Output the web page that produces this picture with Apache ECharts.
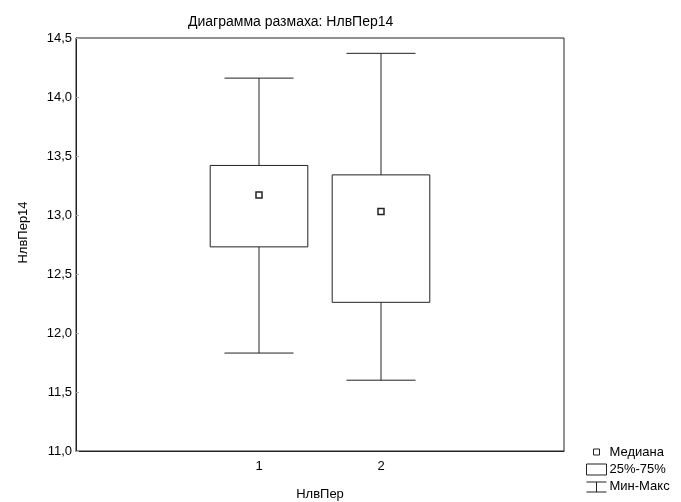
<!DOCTYPE html>
<html>
<head>
<meta charset="utf-8">
<script src="https://cdn.jsdelivr.net/npm/echarts@6/dist/echarts.min.js"></script>
<style>
  html, body { margin: 0; padding: 0; background: #fff; }
  #box { width: 681px; height: 502px; }
</style>
</head>
<body>
<div id="box"></div>
<script>
var categories = ['', '1', '2', ''];
var groups = ['1', '2'];
var mins = [11.83, 11.60];
var q1s = [12.73, 12.26];
var medians = [13.17, 13.03];
var q3s = [13.42, 13.34];
var maxs = [14.16, 14.37];
var yTicks = [11.0, 11.5, 12.0, 12.5, 13.0, 13.5, 14.0, 14.5];

var chart = echarts.init(document.getElementById('box'));

var boxData = [];
var medData = [];
for (var i = 0; i < groups.length; i++) {
  boxData.push([groups[i], mins[i], q1s[i], medians[i], q3s[i], maxs[i]]);
  medData.push([groups[i], medians[i]]);
}

var font = 'Liberation Sans, Arial, sans-serif';
var ink = '#222';

function renderBox(params, api) {
  var x = api.value(0);
  var band = api.size([1, 0])[0];
  var lo = api.coord([x, api.value(2)]);
  var hi = api.coord([x, api.value(4)]);
  var half = band * 0.4;
  return {
    type: 'rect',
    shape: { x: lo[0] - half, y: hi[1], width: half * 2, height: lo[1] - hi[1] },
    style: { fill: '#fff', stroke: ink, lineWidth: 1 }
  };
}

function renderWhisker(params, api) {
  var x = api.value(0);
  var band = api.size([1, 0])[0];
  var pMin = api.coord([x, api.value(1)]);
  var pQ1 = api.coord([x, api.value(2)]);
  var pQ3 = api.coord([x, api.value(4)]);
  var pMax = api.coord([x, api.value(5)]);
  var cap = band * 0.283;
  var st = { stroke: ink, lineWidth: 1 };
  return {
    type: 'group',
    children: [
      { type: 'line', shape: { x1: pQ3[0], y1: pQ3[1], x2: pMax[0], y2: pMax[1] }, style: st },
      { type: 'line', shape: { x1: pQ1[0], y1: pQ1[1], x2: pMin[0], y2: pMin[1] }, style: st },
      { type: 'line', shape: { x1: pMax[0] - cap, y1: pMax[1], x2: pMax[0] + cap, y2: pMax[1] }, style: st },
      { type: 'line', shape: { x1: pMin[0] - cap, y1: pMin[1], x2: pMin[0] + cap, y2: pMin[1] }, style: st }
    ]
  };
}

var legendStyle = { color: '#fff', borderColor: ink, borderWidth: 1 };

var option = {
  backgroundColor: '#fff',
  animation: false,
  title: {
    text: 'Диаграмма размаха: НлвПер14',
    left: 183,
    top: 10,
    textStyle: { fontFamily: font, fontSize: 14, fontWeight: 'normal', color: '#000' }
  },
  legend: {
    orient: 'vertical',
    left: 580,
    top: 441,
    itemWidth: 22,
    itemHeight: 11,
    itemGap: 4,
    textStyle: { fontFamily: font, fontSize: 13, color: '#000', padding: [0, 0, 0, -3] },
    data: [
      { name: 'Медиана', icon: 'path://M0,0 M22,11 M8,2h6v6h-6z', itemStyle: legendStyle },
      { name: '25%-75%', icon: 'path://M1,0h20v11h-20z', itemStyle: legendStyle },
      { name: 'Мин-Макс', icon: 'path://M0,0 M22,11 M1,1h20 M11,1v10 M1,11h20', itemStyle: legendStyle }
    ]
  },
  grid: {
    left: 76,
    right: 117,
    top: 38,
    bottom: 51,
    outerBoundsMode: 'none',
    show: true,
    borderColor: ink,
    borderWidth: 1
  },
  xAxis: {
    type: 'category',
    data: categories,
    boundaryGap: true,
    name: 'НлвПер',
    nameLocation: 'middle',
    nameGap: 37,
    nameTextStyle: { fontFamily: font, fontSize: 13, color: '#000' },
    axisLine: { lineStyle: { color: ink, width: 1 } },
    axisTick: {
      inside: true,
      length: 3,
      alignWithLabel: true,
      interval: function (idx, val) { return val !== ''; },
      lineStyle: { color: '#888' }
    },
    axisLabel: { margin: 9, fontFamily: font, fontSize: 13, color: '#000' },
    splitLine: { show: false }
  },
  yAxis: {
    type: 'value',
    min: yTicks[0],
    max: yTicks[yTicks.length - 1],
    interval: 0.5,
    name: 'НлвПер14',
    nameLocation: 'middle',
    nameGap: 46,
    nameTextStyle: { fontFamily: font, fontSize: 13, color: '#000', padding: [0, 0, 0, 24] },
    axisLine: { show: true, lineStyle: { color: ink, width: 1 } },
    axisTick: { show: true, inside: true, length: 3, lineStyle: { color: '#aaa' } },
    axisLabel: {
      margin: 4,
      fontFamily: font,
      fontSize: 13,
      color: '#000',
      formatter: function (v) { return v.toFixed(1).replace('.', ','); }
    },
    splitLine: { show: false }
  },
  series: [
    {
      name: 'Мин-Макс',
      type: 'custom',
      renderItem: renderWhisker,
      encode: { x: 0, y: [1, 2, 3, 4, 5] },
      data: boxData,
      z: 2
    },
    {
      name: '25%-75%',
      type: 'custom',
      renderItem: renderBox,
      encode: { x: 0, y: [1, 2, 3, 4, 5] },
      data: boxData,
      z: 3
    },
    {
      name: 'Медиана',
      type: 'scatter',
      symbol: 'rect',
      symbolSize: 6,
      itemStyle: { color: '#fff', borderColor: ink, borderWidth: 1.5, opacity: 1 },
      data: medData,
      z: 4
    }
  ]
};

chart.setOption(option);
</script>
</body>
</html>
